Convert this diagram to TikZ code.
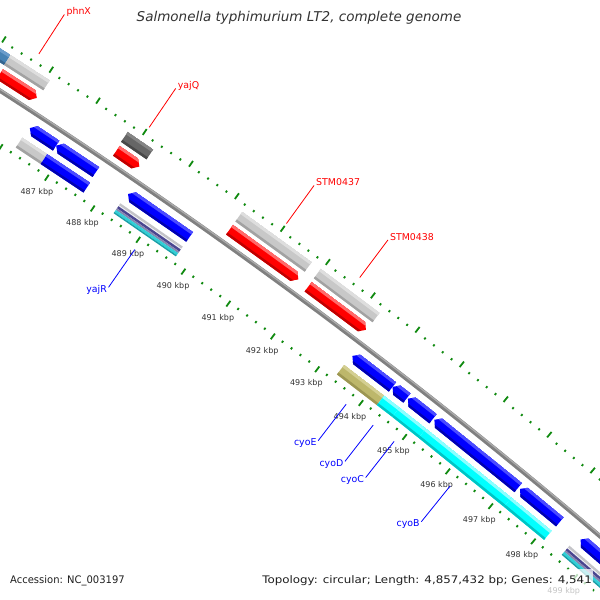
\documentclass[tikz,border=0pt]{standalone}
\usepackage{fontspec}
\setmainfont{DejaVu Sans}
\definecolor{fGray}{HTML}{C8C8C8}
\definecolor{fGrayL}{HTML}{DEDEDE}
\definecolor{fGrayD}{HTML}{A2A2A2}
\definecolor{fDgray}{HTML}{666666}
\definecolor{fDgrayL}{HTML}{858585}
\definecolor{fDgrayD}{HTML}{484848}
\definecolor{fSteel}{HTML}{4682B4}
\definecolor{fSteelL}{HTML}{6A9CCB}
\definecolor{fSteelD}{HTML}{35658F}
\definecolor{fRed}{HTML}{FF0000}
\definecolor{fRedL}{HTML}{FF6A6A}
\definecolor{fRedD}{HTML}{C00000}
\definecolor{fBlue}{HTML}{0000FF}
\definecolor{fBlueL}{HTML}{4B4BFF}
\definecolor{fBlueD}{HTML}{0000B0}
\definecolor{fKhaki}{HTML}{BDB76B}
\definecolor{fKhakiL}{HTML}{D4CF92}
\definecolor{fKhakiD}{HTML}{9C9652}
\definecolor{fCyan}{HTML}{00FFFF}
\definecolor{fCyanL}{HTML}{8CFFFF}
\definecolor{fCyanD}{HTML}{00C4C4}
\definecolor{sGray}{HTML}{C4C4C8}
\definecolor{sWhite}{HTML}{EEEEF4}
\definecolor{sSlate}{HTML}{4A4590}
\definecolor{sLav}{HTML}{8585B0}
\definecolor{sCyan}{HTML}{30D0D8}
\definecolor{sTeal}{HTML}{18A0A8}
\definecolor{tickgreen}{HTML}{108A10}
\definecolor{bbmain}{HTML}{808080}
\definecolor{bblight}{HTML}{ABABAB}
\definecolor{kbptext}{HTML}{333333}
\definecolor{titletext}{HTML}{333333}
\tikzset{
  tickmark/.style={draw=tickgreen, line width=1.8pt},
  kbp/.style={font=\fontsize{8}{9}\selectfont, text=kbptext, inner sep=0pt},
  fwdlbl/.style={font=\fontsize{9.4}{10}\selectfont, text=red, inner sep=0pt, anchor=west, xshift=2pt, yshift=3pt},
  revlbl/.style={font=\fontsize{9.4}{10}\selectfont, text=blue, inner sep=0pt, anchor=east, xshift=-1.5pt, yshift=-2.5pt},
  fwdline/.style={draw=red, line width=0.8pt},
  revline/.style={draw=blue, line width=0.8pt},
  foot/.style={font=\fontsize{10.4}{12}\selectfont, text=black!88, inner sep=0pt},
}
\newcommand{\gShB}[4]{({th(#1)}:{#3}) -- ({th(#1)}:{#4}) -- ({th(#2)}:{#4}) -- ({th(#2)}:{#3}) -- cycle}
\newcommand{\gShF}[4]{({th(#1)}:{#3}) -- ({th(#1)}:{#4}) -- ({th(#2-0.1)}:{#4}) -- ({th(#2)}:{(#3+#4)/2}) -- ({th(#2-0.1)}:{#3}) -- cycle}
\newcommand{\gShR}[4]{({th(#1)}:{(#3+#4)/2}) -- ({th(#1+0.1)}:{#4}) -- ({th(#2)}:{#4}) -- ({th(#2)}:{#3}) -- ({th(#1+0.1)}:{#3}) -- cycle}
\newcommand{\gFeat}[6]{%
  \begin{scope}
    \clip #1{#2}{#3}{#4}{#5};
    \fill[#6] \gShB{#2-0.2}{#3+0.2}{#4}{#5};
    \fill[#6L] \gShB{#2-0.2}{#3+0.2}{#5-3}{#5};
    \fill[#6D] \gShB{#2-0.2}{#3+0.2}{#4}{#4+2.5};
  \end{scope}}
\newcommand{\gStripes}[2]{%
  \fill[sGray] \gShB{#1}{#2}{5570.5}{5573};
  \fill[sWhite] \gShB{#1}{#2}{5569.5}{5570.5};
  \fill[sSlate] \gShB{#1}{#2}{5567}{5569.5};
  \fill[sLav] \gShB{#1}{#2}{5565}{5567};
  \fill[sCyan] \gShB{#1}{#2}{5562.5}{5565};
  \fill[sTeal] \gShB{#1}{#2}{5561}{5562.5};}
\newcommand{\gLabOut}[3]{%
  \coordinate (#1a) at ({th(#2)}:5652);
  \coordinate (#1b) at ({th(#2)}:5699);
  \draw[fwdline] (#1a) -- (#1b);
  \node[fwdlbl] (#1) at (#1b) {#3};}
\newcommand{\gLabIn}[3]{%
  \coordinate (#1a) at ({th(#2)}:5543);
  \coordinate (#1b) at ({th(#2)}:5497);
  \draw[revline] (#1a) -- (#1b);
  \node[revlbl] (#1) at (#1b) {#3};}
\begin{document}
\begin{tikzpicture}[x=1pt,y=1pt, declare function={th(\k)=56.35-0.57*(\k-487);}]
\useasboundingbox (0,0) rectangle (600,-600);
\fill[white] (0,0) rectangle (600,-600);
\clip (0,0) rectangle (600,-600);
\begin{scope}[shift={(-3030,-4800)}]
  % tick rings
  \foreach \i in {0,...,83}{
    \pgfmathsetmacro\kk{484+0.2*\i}
    \pgfmathtruncatemacro\mm{mod(\i,5)}
    \ifnum\mm=0
      \draw[tickmark] ({th(\kk)}:5642) -- ({th(\kk)}:5649);
      \draw[tickmark] ({th(\kk)}:5549.5) -- ({th(\kk)}:5556.5);
    \else
      \draw[tickmark] ({th(\kk)}:5642) -- ({th(\kk)}:5644.2);
      \draw[tickmark] ({th(\kk)}:5553.3) -- ({th(\kk)}:5555.6);
    \fi
  }
  % backbone
  \draw[line width=4.4pt, draw=bbmain] ({th(484)}:5600) arc[start angle={th(484)}, end angle={th(500.6)}, radius=5600pt];
  \draw[line width=1.3pt, draw=bblight] ({th(484)}:5601.2) arc[start angle={th(484)}, end angle={th(500.6)}, radius=5601.2pt];
  % lane A
  \gFeat{\gShB}{484.3}{485.25}{5624}{5636}{fSteel}
  \gFeat{\gShB}{485.25}{486.08}{5624}{5636}{fGray}
  \gFeat{\gShB}{487.75}{488.30}{5624}{5636}{fDgray}
  \gFeat{\gShB}{490.24}{491.77}{5624}{5636}{fGray}
  \gFeat{\gShB}{491.97}{493.28}{5624}{5636}{fGray}
  % lane B
  \gFeat{\gShF}{485.27}{486.06}{5608}{5620}{fRed}
  \gFeat{\gShF}{487.77}{488.27}{5608}{5620}{fRed}
  \gFeat{\gShF}{490.24}{491.76}{5608}{5620}{fRed}
  \gFeat{\gShF}{491.98}{493.27}{5608}{5620}{fRed}
  % lane C
  \gFeat{\gShR}{486.25}{486.82}{5579}{5591}{fBlue}
  \gFeat{\gShR}{486.82}{487.68}{5579}{5591}{fBlue}
  \gFeat{\gShR}{488.38}{489.73}{5579}{5591}{fBlue}
  \gFeat{\gShR}{493.36}{494.27}{5579}{5591}{fBlue}
  \gFeat{\gShR}{494.27}{494.60}{5579}{5591}{fBlue}
  \gFeat{\gShR}{494.62}{495.20}{5579}{5591}{fBlue}
  \gFeat{\gShR}{495.23}{497.17}{5579}{5591}{fBlue}
  \gFeat{\gShR}{497.21}{498.14}{5579}{5591}{fBlue}
  \gFeat{\gShR}{498.63}{500.6}{5579}{5591}{fBlue}
  % lane D
  \gFeat{\gShB}{486.23}{486.77}{5561}{5573}{fGray}
  \gFeat{\gShB}{486.77}{487.70}{5561}{5573}{fBlue}
  \gStripes{488.36}{489.73}
  \gFeat{\gShB}{493.34}{494.25}{5561}{5573}{fKhaki}
  \gFeat{\gShB}{494.25}{494.60}{5561}{5573}{fCyan}
  \gFeat{\gShB}{494.60}{495.21}{5561}{5573}{fCyan}
  \gFeat{\gShB}{495.21}{497.19}{5561}{5573}{fCyan}
  \gFeat{\gShB}{497.19}{498.13}{5561}{5573}{fCyan}
  \gStripes{498.55}{500.6}
  % kbp labels
  \foreach \k in {487,...,499}{
    \node[kbp] (kbp\k) at ({th(\k)}:5535) {\k\ kbp};
  }
  % gene labels
  \gLabOut{phnX}{485.66}{phnX}
  \gLabOut{yajQ}{488.02}{yajQ}
  \gLabOut{stmA}{491.0}{STM0437}
  \gLabOut{stmB}{492.62}{STM0438}
  \gLabIn{yajR}{489.05}{yajR}
  \gLabIn{cyoE}{493.8}{cyoE}
  \gLabIn{cyoD}{494.42}{cyoD}
  \gLabIn{cyoC}{494.9}{cyoC}
  \gLabIn{cyoB}{496.2}{cyoB}
\end{scope}
% title and legend
\node[font=\fontsize{13.5}{16}\selectfont\itshape, text=titletext, inner sep=0pt] (title) at (299,-18) {Salmonella typhimurium LT2, complete genome};
\fill[white, fill opacity=0.72] (255,-569) rectangle (593,-599);
\node[foot, anchor=west] (acc) at (10,-581) {\scalebox{0.96}[1]{Accession: NC\_003197}};
\node[foot, anchor=east] (topo) at (592,-581) {\scalebox{1.14}[1]{Topology: circular; Length: 4,857,432 bp; Genes: 4,541}};
\end{tikzpicture}
\end{document}
